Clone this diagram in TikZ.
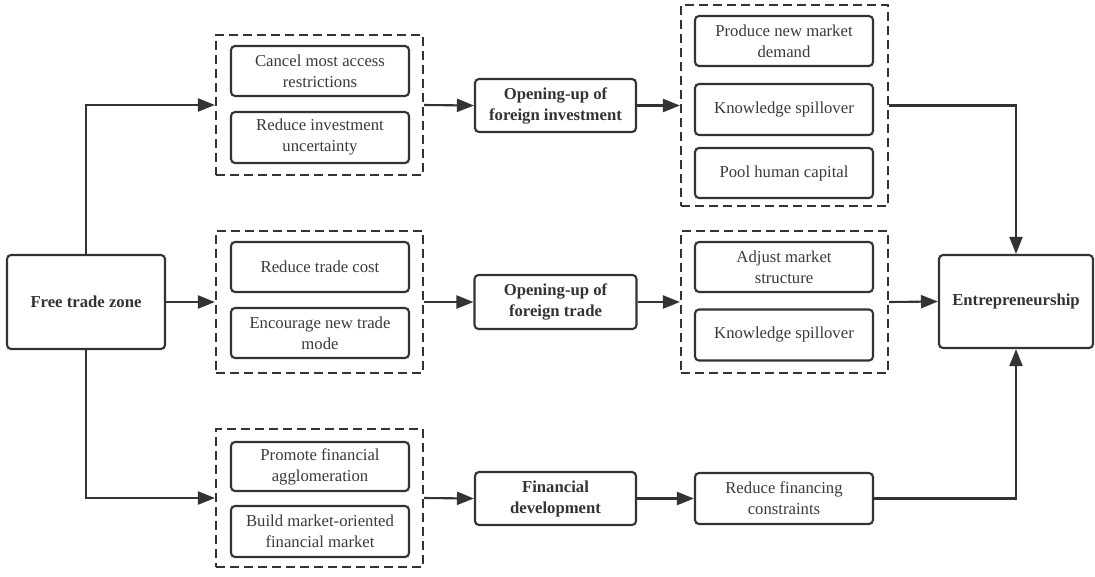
\documentclass[tikz,border=0pt]{standalone}
\usepackage{fontspec}
\setmainfont{Liberation Serif}
\usetikzlibrary{arrows.meta}
\definecolor{ink}{HTML}{333333}
\definecolor{txt}{HTML}{3A3A3A}
\tikzset{
  box/.style={draw=ink, line width=2.1pt, rounded corners=4pt, inner sep=0pt, align=center,
    text=txt, font=\fontsize{16.7}{21}\selectfont},
  boldbox/.style={box, text=ink, font=\fontsize{16.7}{21}\selectfont\bfseries},
  grp/.style={draw=ink, line width=2.1pt, dash pattern=on 9pt off 5pt, inner sep=0pt},
  arr/.style={draw=ink, line width=2.1pt, -{Triangle[length=17pt,width=13pt]}}
}
\begin{document}
\begin{tikzpicture}[x=1pt,y=-1pt]
\useasboundingbox (0,0) rectangle (1095,576);
% left and right main nodes
\node[boldbox, minimum width=158pt, minimum height=94pt] (ftz) at (86,302) {Free trade zone};
\node[boldbox, minimum width=154pt, minimum height=93pt] (ent) at (1016,301.5) {Entrepreneurship};
% dashed groups
\node[grp, minimum width=207pt, minimum height=140pt] (g1) at (319.5,105) {};
\node[grp, minimum width=207pt, minimum height=142pt] (g2) at (319.5,302) {};
\node[grp, minimum width=207pt, minimum height=138pt] (g3) at (319.5,498) {};
\node[grp, minimum width=207pt, minimum height=201pt] (g4) at (784.5,105.5) {};
\node[grp, minimum width=207pt, minimum height=142pt] (g5) at (784.5,302) {};
% inner boxes left
\node[box, minimum width=178pt, minimum height=50pt] (a1) at (320,71) {Cancel most access\\restrictions};
\node[box, minimum width=178pt, minimum height=51pt] (a2) at (320,137.5) {Reduce investment\\uncertainty};
\node[box, minimum width=178pt, minimum height=50pt] (b1) at (320,267) {Reduce trade cost};
\node[box, minimum width=178pt, minimum height=50pt] (b2) at (320,333) {Encourage new trade\\mode};
\node[box, minimum width=178pt, minimum height=49pt] (c1) at (320,466.5) {Promote financial\\agglomeration};
\node[box, minimum width=178pt, minimum height=51pt] (c2) at (320,531.5) {Build market-oriented\\financial market};
% inner boxes right
\node[box, minimum width=178pt, minimum height=50pt] (d1) at (784,41) {Produce new market\\demand};
\node[box, minimum width=178pt, minimum height=51pt] (d2) at (784,109.5) {Knowledge spillover};
\node[box, minimum width=178pt, minimum height=50pt] (d3) at (784,173) {Pool human capital};
\node[box, minimum width=178pt, minimum height=50pt] (e1) at (784,267) {Adjust market\\structure};
\node[box, minimum width=178pt, minimum height=51pt] (e2) at (784,335) {Knowledge spillover};
% middle bold boxes
\node[boldbox, minimum width=161pt, minimum height=53pt] (o1) at (555.5,105.5) {Opening-up of\\foreign investment};
\node[boldbox, minimum width=162pt, minimum height=54pt] (o2) at (555.5,302) {Opening-up of\\foreign trade};
\node[boldbox, minimum width=161pt, minimum height=53pt] (o3) at (555.5,498.5) {Financial\\development};
\node[box, minimum width=178pt, minimum height=51pt] (rf) at (784,498.5) {Reduce financing\\constraints};
% connectors
\draw[arr] (ftz.north) |- (g1.west);
\draw[arr] (ftz.east) -- (g2.west);
\draw[arr] (ftz.south) |- (g3.west);
\draw[arr] (g1.east) -- (o1.west);
\draw[arr] (o1.east) -- (g4.west);
\draw[arr] (g4.east) -| (ent.north);
\draw[arr] (g2.east) -- (o2.west);
\draw[arr] (o2.east) -- (g5.west);
\draw[arr] (g5.east) -- (ent.west);
\draw[arr] (g3.east) -- (o3.west);
\draw[arr] (o3.east) -- (rf.west);
\draw[arr] (rf.east) -| (ent.south);
\end{tikzpicture}
\end{document}
